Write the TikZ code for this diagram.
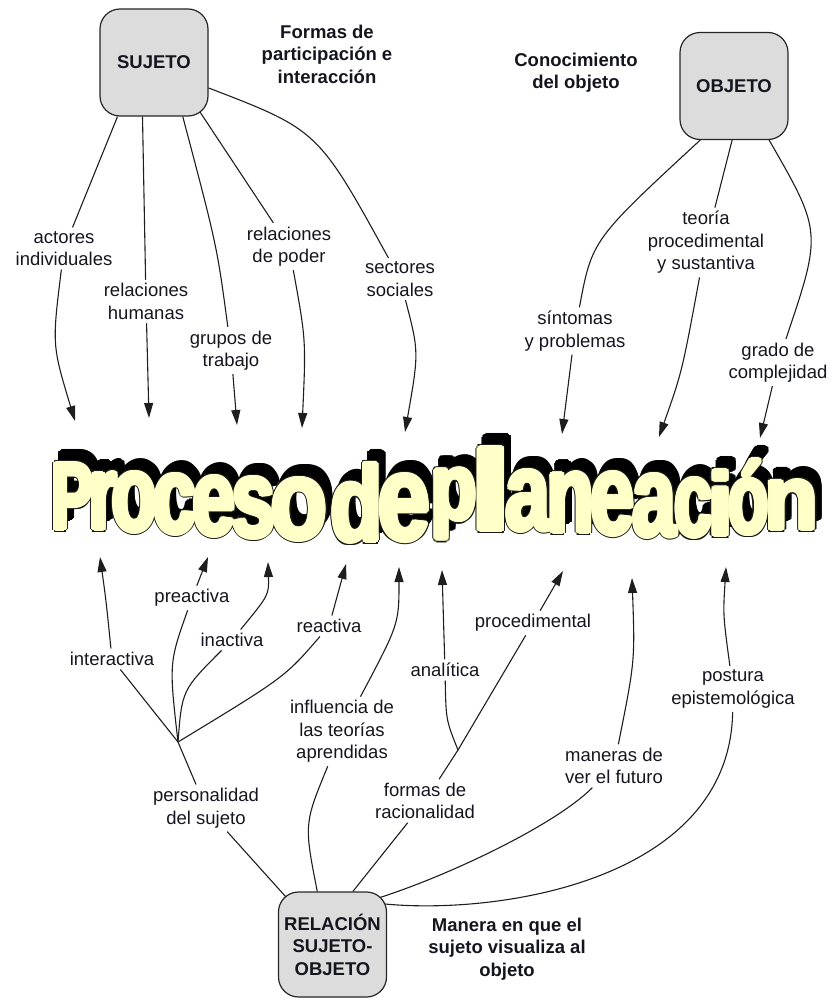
\documentclass[tikz,border=0pt]{standalone}
\usepackage{fontspec}
\setmainfont{Liberation Sans}
\newfontfamily\titlefont{Liberation Sans}
\usetikzlibrary{arrows.meta}
\definecolor{boxgray}{HTML}{DCDCDC}
\definecolor{titleyellow}{HTML}{FFFFC8}
\definecolor{linec}{HTML}{1E1E1E}
\definecolor{txt}{HTML}{151520}
\tikzset{
  cbox/.style={draw=black!85, line width=1.2pt, fill=boxgray, rounded corners=20pt,
    minimum width=108pt, minimum height=107pt, align=center, inner sep=2pt, text=txt,
    font=\fontsize{18.5}{22.5}\selectfont\bfseries},
  lbl/.style={font=\fontsize{18.5}{22.5}\selectfont, align=center, inner sep=3.5pt, text=txt},
  hdr/.style={font=\fontsize{18.5}{22.5}\selectfont\bfseries, align=center, inner sep=3pt, text=txt},
  conn/.style={draw=linec, line width=1.1pt},
  arr/.style={conn, -{Triangle[length=15pt,width=9pt]}},
  tletter/.style={anchor=south west, inner sep=0pt, outer sep=0pt}
}
% letter / left / right / top / bottom / width factor
\newcommand\titleletters{P/55/90/464/529/1.18,r/92/114/473/529/1.25,o/115/154/473/532/1.14,c/156/193/475/534/1.16,e/195/233/477/536/1.13,s/235/272/478/538/1.16,o/274/324/479/540/1.14,d/335/378/464/542/1.2,e/381/427/475/541/1.13,p/435/473/469/539/1.2,l/478/504/448/530/1.75,a/508/548/471/531/1.12,n/551/590/473/532/1.2,e/593/632/473/535/1.13,a/635/674/475/537/1.12,c/677/710/479/537/1.16,i/713/728/471/535/1.75,ó/731/766/460/534/1.15,n/769/814/481/529/1.2}
\begin{document}
\begin{tikzpicture}[x=1pt,y=-1pt]
\useasboundingbox (0,0) rectangle (832,998);

% ---------- title (word art): shadow, outline, fill ----------
\foreach \c/\xa/\xb/\ya/\yb/\f [count=\i] in \titleletters {
  \pgfmathsetmacro\w{\f*(\xb-\xa)}\pgfmathsetmacro\h{\yb-\ya}\pgfmathsetmacro\xl{\xa-(\f-1)/2*(\xb-\xa)}
  \foreach \a [count=\j] in {0,30,...,330} {
    \node[tletter, text=black, name=sh-\i-\j] at ({\xl+6+3.4*cos(\a)},{\yb-11+3.4*sin(\a)}) {\resizebox*{\w pt}{\h pt}{\titlefont\bfseries \c}};
  }
}
\foreach \c/\xa/\xb/\ya/\yb/\f [count=\i] in \titleletters {
  \pgfmathsetmacro\w{\f*(\xb-\xa)}\pgfmathsetmacro\h{\yb-\ya}\pgfmathsetmacro\xl{\xa-(\f-1)/2*(\xb-\xa)}
  \foreach \a [count=\j] in {0,30,...,330} {
    \node[tletter, text=black!90, name=ol-\i-\j] at ({\xl+3.5*cos(\a)},{\yb+3.5*sin(\a)}) {\resizebox*{\w pt}{\h pt}{\titlefont\bfseries \c}};
  }
}
\foreach \c/\xa/\xb/\ya/\yb/\f [count=\i] in \titleletters {
  \pgfmathsetmacro\w{\f*(\xb-\xa)}\pgfmathsetmacro\h{\yb-\ya}\pgfmathsetmacro\xl{\xa-(\f-1)/2*(\xb-\xa)}
  \foreach \a [count=\j] in {0,30,...,330} {
    \node[tletter, text=titleyellow, name=fl-\i-\j] at ({\xl+2.3*cos(\a)},{\yb+2.3*sin(\a)}) {\resizebox*{\w pt}{\h pt}{\titlefont\bfseries \c}};
  }
}

% ---------- arrow targets on the title ----------
\coordinate (t1) at (75,421);
\coordinate (t2) at (149,418);
\coordinate (t3) at (237,425);
\coordinate (t4) at (302,428);
\coordinate (t5) at (405,432);
\coordinate (t6) at (562,434);
\coordinate (t7) at (659,437);
\coordinate (t8) at (760,438);
\coordinate (b1) at (100,557);
\coordinate (b2) at (208,557);
\coordinate (b3) at (268,562);
\coordinate (b4) at (346,564);
\coordinate (b5) at (399,567);
\coordinate (b6) at (442,570);
\coordinate (b7) at (563,571);
\coordinate (b8) at (632,578);
\coordinate (b9) at (726,567);
\coordinate (J1) at (178,742);
\coordinate (J2) at (458,750);

% ---------- concept boxes ----------
\node[cbox] (suj) at (154,62.5) {SUJETO};
\node[cbox] (obj) at (734,86) {OBJETO};
\node[cbox, minimum height=105pt] (rel) at (332.5,944.5) {RELACIÓN\\SUJETO-\\OBJETO};

% ---------- headers ----------
\node[hdr] (hfor) at (327,54) {Formas de\\participación e\\interacción};
\node[hdr] (hcon) at (576,72.5) {Conocimiento\\del objeto};
\node[hdr] (hman) at (507,949) {Manera en que el\\sujeto visualiza al\\objeto};

% ---------- labels ----------
\node[lbl] (lact) at (64,248.5) {actores\\individuales};
\node[lbl] (lhum) at (146,301.5) {relaciones\\humanas};
\node[lbl] (lgru) at (231,350.5) {grupos de\\trabajo};
\node[lbl] (lpod) at (289,246.5) {relaciones\\de poder};
\node[lbl] (lsec) at (400,279) {sectores\\sociales};
\node[lbl] (lsin) at (575,331) {síntomas\\y problemas};
\node[lbl] (lteo) at (706,242.5) {teoría\\procedimental\\y sustantiva};
\node[lbl] (lgra) at (778,362.5) {grado de\\complejidad};

\node[lbl] (lint) at (112,659) {interactiva};
\node[lbl] (lpre) at (192,598) {preactiva};
\node[lbl] (lina) at (232,640) {inactiva};
\node[lbl] (lrea) at (329,626) {reactiva};
\node[lbl] (lper) at (206,808) {personalidad\\del sujeto};
\node[lbl] (linf) at (342,731.5) {influencia de\\las teorías\\aprendidas};
\node[lbl] (lfor) at (425,801) {formas de\\racionalidad};
\node[lbl] (lana) at (445,670) {analítica};
\node[lbl] (lpro) at (533,623) {procedimental};
\node[lbl] (lman) at (614,766) {maneras de\\ver el futuro};
\node[lbl] (lpos) at (733,689) {postura\\epistemológica};

% ---------- SUJETO links ----------
\draw[conn] (suj.-124) -- (lact);
\draw[arr] (lact) .. controls (52,345) .. (t1);
\draw[conn] (suj.-102) -- (lhum);
\draw[arr] (lhum) -- (t2);
\draw[conn] (suj.-62) .. controls (217,246) .. (lgru);
\draw[arr] (lgru) -- (t3);
\draw[conn] ([shift={(46pt,-49.5pt)}]suj.center) -- (lpod);
\draw[arr] (lpod) .. controls (306,340) .. (t4);
\draw[conn] (suj.-25) .. controls (318,130) .. (lsec);
\draw[arr] (lsec) .. controls (419,352) .. (t5);

% ---------- OBJETO links ----------
\draw[conn] (obj.-122) .. controls (592,240) .. (lsin);
\draw[arr] (lsin) -- (t6);
\draw[conn] (obj.-92) -- (lteo);
\draw[arr] (lteo) .. controls (682,372) .. (t7);
\draw[conn] (obj.-57) .. controls (822,232) .. (lgra);
\draw[arr] (lgra) -- (t8);

% ---------- RELACION links ----------
\draw[conn] ([shift={(-46.8pt,47.8pt)}]rel.center) -- (lper);
\draw[conn] (lper) -- (J1);
\draw[conn] (J1) -- (lint);
\draw[arr] (lint) .. controls (106,600) .. (b1);
\draw[conn] (J1) .. controls (169,663) .. (lpre);
\draw[arr] (lpre) -- (b2);
\draw[conn] (J1) .. controls (182,690) .. (lina);
\draw[arr] (lina) .. controls (269,595) .. (b3);
\draw[conn] (J1) .. controls (285,677) .. (lrea);
\draw[arr] (lrea) -- (b4);

\draw[conn] (rel.106) .. controls (304,824) .. (linf);
\draw[arr] (linf) .. controls (399,624) .. (b5);

\draw[conn] (rel.69) -- (lfor);
\draw[conn] (lfor) -- (J2) -- (lpro);
\draw[conn] (J2) .. controls (446,720) .. (lana);
\draw[arr] (lana) -- (b6);
\draw[arr] (lpro) -- (b7);

\draw[conn] ([shift={(47.4pt,47pt)}]rel.center) .. controls (450,875) and (555,825) .. (lman);
\draw[arr] (lman) .. controls (635,661) .. (b8);
\draw[conn] ([shift={(52.6pt,40.5pt)}]rel.center) .. controls (500,915) and (730,880) .. (lpos);
\draw[arr] (lpos) .. controls (723,615) .. (b9);
\end{tikzpicture}
\end{document}
